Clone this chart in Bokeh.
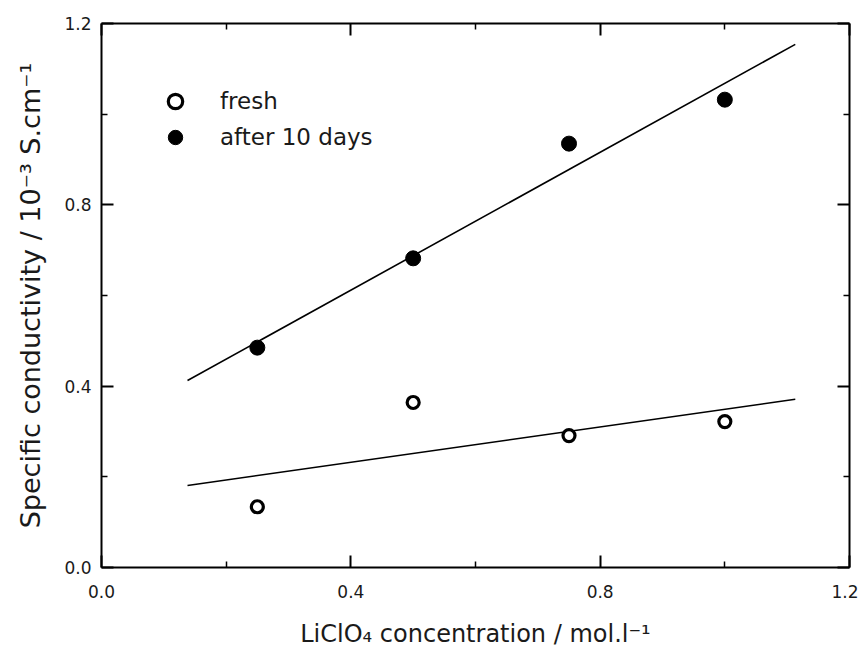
from bokeh.plotting import figure
from bokeh.models import LinearAxis, FixedTicker, Legend, LegendItem, Range1d, NumeralTickFormatter
from bokeh.embed import file_html
from bokeh.resources import INLINE

# data
conc = [0.25, 0.5, 0.75, 1.0]
fresh = [0.134, 0.364, 0.291, 0.322]
aged = [0.485, 0.682, 0.935, 1.032]
fit_x = [0.138, 1.113]
fit_fresh = [0.181, 0.371]
fit_aged = [0.4125, 1.154]
major_ticks = [0.0, 0.4, 0.8, 1.2]
minor_ticks = [0.2, 0.6, 1.0]

FONT = "DejaVu Sans"
TXT = "#1a1a1a"

p = figure(width=858, height=650, x_range=Range1d(0, 1.2), y_range=Range1d(0, 1.2),
           output_backend="svg", toolbar_location=None,
           min_border_left=101, min_border_right=9, min_border_top=23, min_border_bottom=83,
           x_axis_location="below", y_axis_location="left")
p.xgrid.visible = False
p.ygrid.visible = False
p.outline_line_color = None
p.background_fill_color = "white"
p.border_fill_color = "white"

ticker = FixedTicker(ticks=major_ticks, minor_ticks=minor_ticks)


def style(ax, labels=True):
    ax.ticker = ticker
    ax.axis_line_width = 2
    ax.axis_line_color = "black"
    ax.major_tick_in = 12
    ax.major_tick_out = 0
    ax.minor_tick_in = 6
    ax.minor_tick_out = 0
    ax.major_tick_line_width = 2
    ax.minor_tick_line_width = 1.5
    ax.major_tick_line_color = "black"
    ax.minor_tick_line_color = "black"
    if labels:
        ax.formatter = NumeralTickFormatter(format="0.0")
        ax.major_label_text_font = FONT
        ax.major_label_text_font_size = "17px"
        ax.major_label_text_color = TXT
        ax.axis_label_text_font = FONT
        ax.axis_label_text_font_style = "normal"
        ax.axis_label_text_color = TXT
    else:
        ax.major_label_overrides = {t: "" for t in major_ticks}
        ax.major_label_standoff = 0
        ax.axis_label = None


xa = p.xaxis[0]
ya = p.yaxis[0]
style(xa)
style(ya)
xa.axis_label = "LiClO\u2084 concentration / mol.l\u207b\u00b9"
ya.axis_label = "Specific conductivity / 10\u207b\u00b3 S.cm\u207b\u00b9"
xa.axis_label_text_font_size = "24px"
ya.axis_label_text_font_size = "27px"
xa.major_label_standoff = 17
xa.axis_label_standoff = 19
ya.major_label_standoff = 10
ya.axis_label_standoff = 15
ya.major_label_orientation = "horizontal"

top = LinearAxis()
right = LinearAxis()
style(top, labels=False)
style(right, labels=False)
p.add_layout(top, "above")
p.add_layout(right, "right")

p.line(fit_x, fit_aged, line_color="black", line_width=1.6)
p.line(fit_x, fit_fresh, line_color="black", line_width=1.6)

r_fresh = p.scatter(conc, fresh, marker="circle", size=12, fill_color="white",
                    line_color="black", line_width=3.2)
r_aged = p.scatter(conc, aged, marker="circle", size=15, fill_color="black",
                   line_color="black")

legend = Legend(items=[LegendItem(label="fresh", renderers=[r_fresh]),
                       LegendItem(label="after 10 days", renderers=[r_aged])],
                location=(56, 412), orientation="vertical",
                glyph_width=36, glyph_height=36, label_height=36, spacing=-2,
                label_standoff=27, padding=0, margin=0,
                border_line_color=None, background_fill_alpha=0,
                label_text_font=FONT, label_text_font_size="23px",
                label_text_color=TXT)
p.add_layout(legend)

open("out.html", "w").write(file_html(p, INLINE))
